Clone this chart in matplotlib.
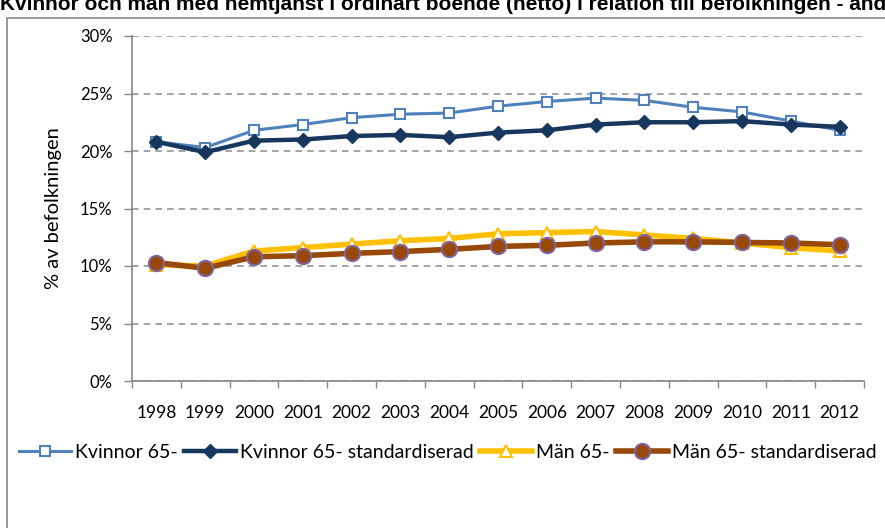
import matplotlib
matplotlib.use("Agg")
import matplotlib.pyplot as plt
from matplotlib.patches import Rectangle
from matplotlib.ticker import FuncFormatter

plt.rcParams['font.family'] = ['Lato', 'DejaVu Sans']

years = [str(y) for y in range(1998, 2013)]
kvinnor = [20.8, 20.3, 21.8, 22.3, 22.9, 23.2, 23.3, 23.9, 24.3, 24.6, 24.4, 23.8, 23.4, 22.6, 21.8]
kvinnor_std = [20.8, 19.9, 20.9, 21.0, 21.3, 21.4, 21.2, 21.6, 21.8, 22.3, 22.5, 22.5, 22.6, 22.3, 22.1]
man = [10.1, 10.0, 11.3, 11.6, 11.9, 12.2, 12.4, 12.8, 12.9, 13.0, 12.7, 12.4, 12.0, 11.6, 11.3]
man_std = [10.3, 9.8, 10.8, 10.9, 11.1, 11.25, 11.45, 11.7, 11.8, 12.0, 12.1, 12.1, 12.05, 12.0, 11.85]

title = "Kvinnor och män med hemtjänst i ordinärt boende (netto) i relation till befolkningen - andel"

fig = plt.figure(figsize=(8.85, 5.28), dpi=100)
ax = fig.add_axes([132 / 885, 1 - 381 / 528, 732 / 885, 345 / 528])

x = list(range(len(years)))

# Kvinnor
ax.plot(x, kvinnor, color='#4F81BD', lw=2.2, marker='s', ms=7, mfc='white',
        mec='#4F81BD', mew=1.5, label='Kvinnor 65-', zorder=3)
ax.plot(x, kvinnor_std, color='#17375E', lw=3.2, marker='D', ms=7,
        mfc='#17375E', mec='#17375E', label='Kvinnor 65- standardiserad', zorder=4)

# Män
ax.plot(x, man, color='#FFC000', lw=4, marker='^', ms=9, mfc='white',
        mec='#FFC000', mew=1.5, label='Män 65-', zorder=3)
ax.plot(x, man_std, color='#984807', lw=4, marker='o', ms=11, mfc='#984807',
        mec='#8064A2', mew=1.5, label='Män 65- standardiserad', zorder=4)

ax.set_xlim(-0.5, len(years) - 0.5)
ax.set_ylim(0, 30)
ax.set_yticks(range(0, 31, 5))
ax.yaxis.set_major_formatter(FuncFormatter(lambda v, p: f"{int(v)}%"))
ax.grid(axis='y', color='#969696', ls=(0, (4, 3)), lw=1.2)
ax.set_axisbelow(True)

ax.set_xticks([i - 0.5 for i in range(len(years) + 1)])
ax.set_xticklabels([])
ax.set_xticks(x, minor=True)
ax.set_xticklabels(years, minor=True)
ax.tick_params(axis='x', which='minor', length=0, pad=17, labelsize=12.5)
ax.tick_params(axis='x', which='major', length=5, color='#868686', width=1)
ax.tick_params(axis='y', length=6, color='#868686', width=1, pad=8, labelsize=12)

for s in ['top', 'right']:
    ax.spines[s].set_visible(False)
for s in ['left', 'bottom']:
    ax.spines[s].set_color('#868686')
    ax.spines[s].set_linewidth(1.2)

ax.set_ylabel('% av befolkningen', fontsize=14.5, labelpad=13)

leg = fig.legend(loc='center left', bbox_to_anchor=(11 / 885, 1 - 452 / 528), ncol=4,
                 frameon=False, handlelength=2.7, handletextpad=0.2,
                 columnspacing=0.3, borderaxespad=0,
                 prop={'size': 14})

fig.patches.append(Rectangle((7 / 885, -0.1), 1.2, 1.1 - 18 / 528, transform=fig.transFigure,
                             fill=False, edgecolor='#868686', lw=1.2))

fig.text(0, 1 - 10 / 528, title, fontsize=15, fontweight='bold',
         family='Liberation Sans', va='baseline', ha='left')

fig.savefig('out.png', dpi=100)
